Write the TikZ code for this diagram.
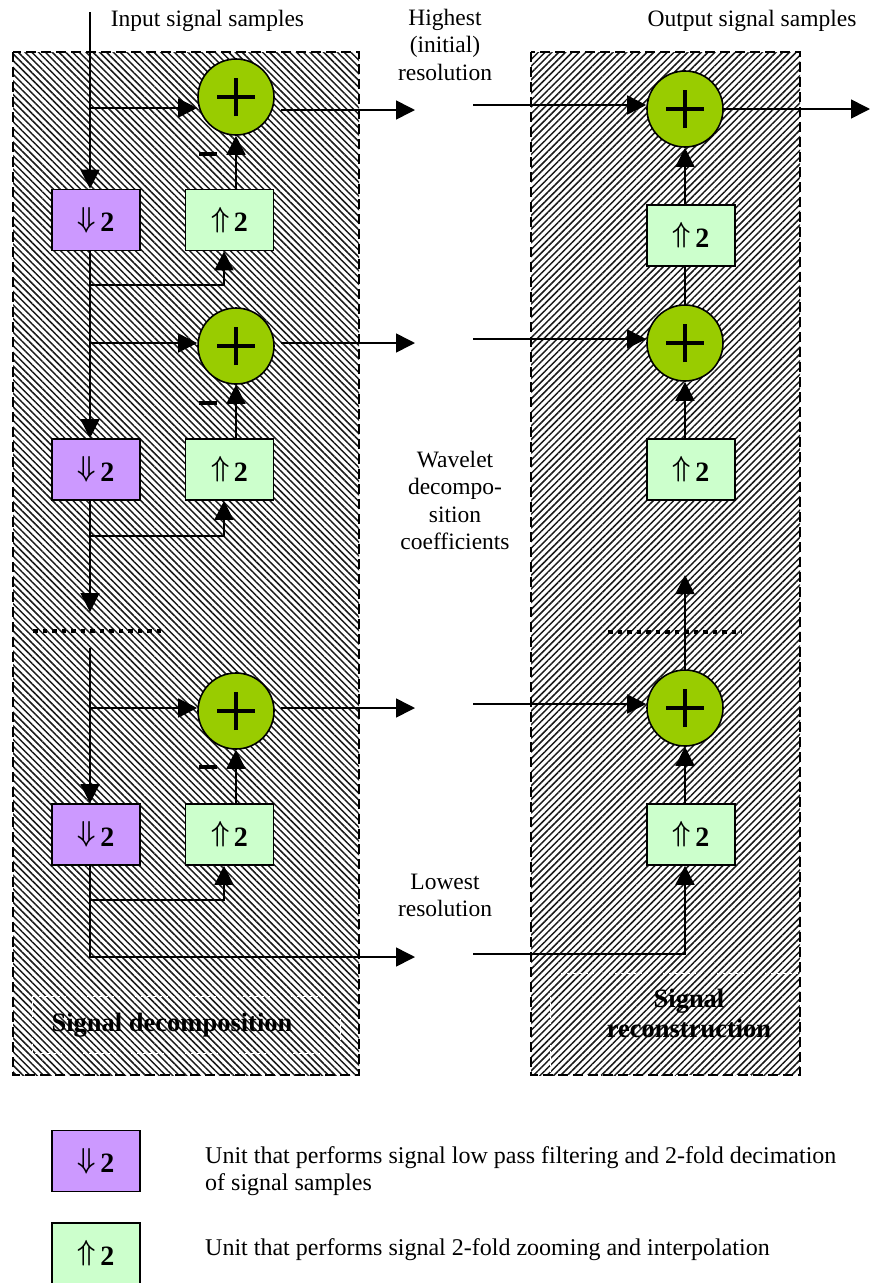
\documentclass[tikz,border=0pt]{standalone}
\usepackage{fontspec}
\setmainfont{Liberation Serif}
\usepackage{graphicx}
\usetikzlibrary{arrows.meta,patterns.meta}
\definecolor{downc}{HTML}{CC99FF}
\definecolor{upc}{HTML}{CCFFCC}
\definecolor{plusc}{HTML}{99CC00}
\newcommand{\mydown}{\raisebox{4.5pt}{\scalebox{2.6}[2.9]{\fontsize{10}{12}\selectfont\boldmath$\Downarrow$}}\,\textbf{2}}
\newcommand{\myup}{\raisebox{4.5pt}{\scalebox{2.6}[2.9]{\fontsize{10}{12}\selectfont\boldmath$\Uparrow$}}\,\textbf{2}}
\tikzset{
  conn/.style={line width=1.6pt},
  arr/.style={conn,-{Triangle[length=19pt,width=19pt]}},
  unitbox/.style={draw,line width=1.6pt,minimum width=88pt,minimum height=61pt,inner sep=0pt,font=\fontsize{28}{30}\selectfont},
  dbox/.style={unitbox,fill=downc},
  ubox/.style={unitbox,fill=upc},
  plus/.style={circle,draw,line width=1.6pt,fill=plusc,minimum size=76pt,inner sep=0pt,
    path picture={\draw[line width=3.5pt]
      ([xshift=-19pt]path picture bounding box.center) -- ([xshift=19pt]path picture bounding box.center)
      ([yshift=-19pt]path picture bounding box.center) -- ([yshift=19pt]path picture bounding box.center);}},
  minus/.style={rectangle,fill=black,minimum width=18pt,minimum height=3.5pt,inner sep=0pt},
  lbl/.style={font=\fontsize{23.5}{27.5}\selectfont,inner sep=0pt,align=center},
  leg/.style={font=\fontsize{24}{27}\selectfont,inner sep=0pt,align=left,anchor=base west},
  blbl/.style={font=\fontsize{26.5}{30}\selectfont\bfseries,inner sep=0pt,align=center},
  panel/.style={line width=2pt,dash pattern=on 10pt off 5pt},
  dotline/.style={line width=4.5pt,dash pattern=on 4.5pt off 5pt},
  frame/.style={white,line width=0.8pt,dashed}
}
\begin{document}
\begin{tikzpicture}[x=1pt,y=-1pt]
\useasboundingbox (0,0) rectangle (870,1283);
\fill[white] (0,0) rectangle (870,1283);
% panels
\fill[pattern={Lines[angle=-45,distance=4.8pt,line width=1.5pt]},pattern color=black!90] (13,52) rectangle (359,1075);
\fill[pattern={Lines[angle=45,distance=4.8pt,line width=1.5pt]},pattern color=black!90] (531,52) rectangle (800,1075);
\draw[frame] (32,996) rectangle (340,1053);
\draw[frame] (550,973) rectangle (800,1075);
\draw[panel] (13,52) rectangle (359,1075);
\draw[panel] (531,52) rectangle (800,1075);

% left units
\node[plus] (p1) at (236,97) {};
\node[dbox] (d1) at (96,220) {\mydown};
\node[ubox] (u1) at (229.5,220) {\myup};
\node[minus] (m1) at (208,154) {};
\node[plus] (p2) at (236,346) {};
\node[dbox] (d2) at (96,469.5) {\mydown};
\node[ubox] (u2) at (229.5,469.5) {\myup};
\node[minus] (m2) at (208,403) {};
\node[plus] (p3) at (236,711) {};
\node[dbox] (d3) at (96,834.5) {\mydown};
\node[ubox] (u3) at (229.5,834.5) {\myup};
\node[minus] (m3) at (208,767) {};

% right units
\node[plus] (r1) at (685,109) {};
\node[ubox] (ru1) at (691,235.5) {\myup};
\node[plus] (r2) at (685,343) {};
\node[ubox] (ru2) at (691,469.5) {\myup};
\node[plus] (r3) at (685,708) {};
\node[ubox] (ru3) at (691,834.5) {\myup};

% coordinates
\coordinate (in) at (90,12);
\coordinate (b1) at (90,108);
\coordinate (o1) at (415,110);
\coordinate (k1) at (90,285);
\coordinate (b2) at (90,343);
\coordinate (o2) at (415,343);
\coordinate (k2) at (90,536);
\coordinate (e2) at (90,612);
\coordinate (s3) at (90,648);
\coordinate (b3) at (90,708);
\coordinate (o3) at (415,708);
\coordinate (k3) at (90,900);
\coordinate (o4) at (415,957);
\coordinate (h1) at (473,105);
\coordinate (out) at (870,109);
\coordinate (h2) at (473,339);
\coordinate (t2) at (685,575);
\coordinate (h3) at (473,704);
\coordinate (h4) at (473,954);

% left connectors
\draw[arr] (in) -- (in |- d1.north);
\draw[arr] (b1) -- (b1 -| p1.west);
\draw[arr,shorten <=6pt] (p1.east |- o1) -- (o1);
\draw[arr] (u1.north -| p1) -- (p1.south);
\draw[arr] (in |- d1.south) -- (in |- d2.north);
\draw[arr] (k1) -| ([xshift=-5.5pt]u1.south);
\draw[arr] (b2) -- (b2 -| p2.west);
\draw[arr,shorten <=6pt] (p2.east |- o2) -- (o2);
\draw[arr] (u2.north -| p2) -- (p2.south);
\draw[arr] (in |- d2.south) -- (e2);
\draw[arr] (k2) -| ([xshift=-5.5pt]u2.south);
\draw[dotline] (33,631) -- (163,631);
\draw[arr] (s3) -- (s3 |- d3.north);
\draw[arr] (b3) -- (b3 -| p3.west);
\draw[arr,shorten <=6pt] (p3.east |- o3) -- (o3);
\draw[arr] (u3.north -| p3) -- (p3.south);
\draw[arr] (in |- d3.south) |- (o4);
\draw[arr] (k3) -| ([xshift=-5.5pt]u3.south);

% right connectors
\draw[arr] (h1) -- (h1 -| r1.west);
\draw[arr] (r1.east |- out) -- (out);
\draw[arr] (ru1.north -| r1) -- (r1.south);
\draw[conn] (ru1.south -| r1) -- (r2.north);
\draw[arr] (h2) -- (h2 -| r2.west);
\draw[arr] (ru2.north -| r2) -- (r2.south);
\draw[arr] (r3.north) -- (t2);
\draw[dotline] (608,632) -- (742,632);
\draw[arr] (h3) -- (h3 -| r3.west);
\draw[arr] (ru3.north -| r3) -- (r3.south);
\draw[arr] (h4) -| (ru3.south -| r3);

% labels (anchor=base refers to the last line)
\node[lbl,anchor=base] (tin) at (207.5,26) {Input signal samples};
\node[lbl,anchor=base] (thi) at (445,80) {Highest\\(initial)\\resolution};
\node[lbl,anchor=base] (tout) at (752,26) {Output signal samples};
\node[lbl,anchor=base] (twv) at (455,549.5) {Wavelet\\decompo-\\sition\\coefficients};
\node[lbl,anchor=base] (tlo) at (445,916.5) {Lowest\\resolution};
\node[blbl,anchor=base] (tdec) at (172,1031) {Signal decomposition};
\node[blbl,anchor=base] (trec) at (689,1037) {Signal\\reconstruction};

% legend
\node[dbox] (ld) at (96,1161) {\mydown};
\node[ubox] (lu) at (96,1253.5) {\myup};
\node[leg] (tld) at (205,1190) {Unit that performs signal low pass filtering and 2-fold decimation\\of signal samples};
\node[leg] (tlu) at (205,1255) {Unit that performs signal 2-fold zooming and interpolation};
\end{tikzpicture}
\end{document}
